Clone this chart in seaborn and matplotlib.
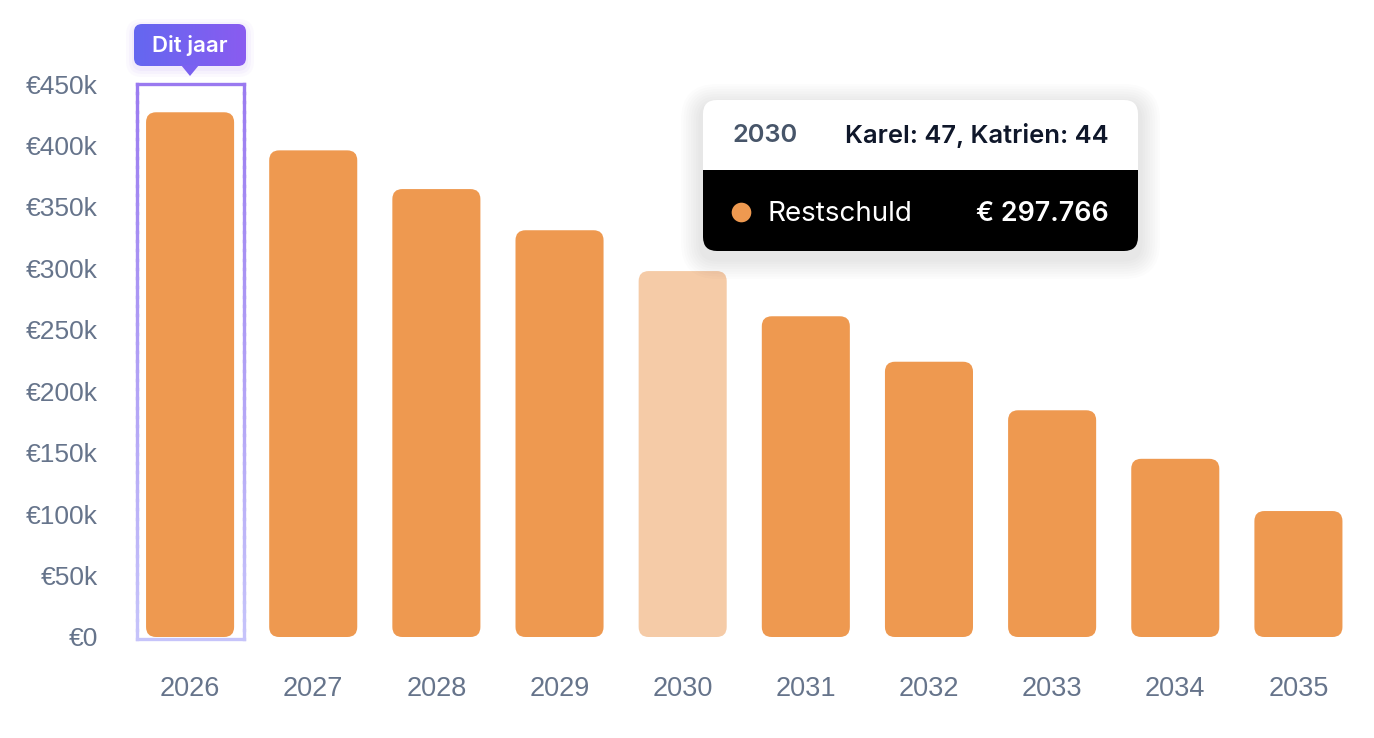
import numpy as np
import pandas as pd
import matplotlib
matplotlib.use("Agg")
import matplotlib.pyplot as plt
import seaborn as sns
from matplotlib.patches import FancyBboxPatch, Polygon
from matplotlib.collections import LineCollection
from matplotlib.colors import to_rgb

# ---- data ----
years = ["2026", "2027", "2028", "2029", "2030", "2031", "2032", "2033", "2034", "2035"]
restschuld = [427000, 396000, 364500, 331000, 297766, 261000, 224000, 184500, 145000, 102500]
y_ticks = [0, 50000, 100000, 150000, 200000, 250000, 300000, 350000, 400000, 450000]
y_tick_labels = ["€0", "€50k", "€100k", "€150k", "€200k", "€250k", "€300k", "€350k", "€400k", "€450k"]
current_year = "2026"
hover_year = "2030"
hover_ages = "Karel: 47, Katrien: 44"
series_name = "Restschuld"
hover_value_label = "€ 297.766"
badge_text = "Dit jaar"

ORANGE = "#EE9950"
ORANGE_LIGHT = "#F5CBA7"
TICK = "#66748B"

sns.set_theme(style="white")
plt.rcParams["font.family"] = ["Liberation Sans", "DejaVu Sans"]

W, H = 1374, 738
fig = plt.figure(figsize=(W / 100, H / 100), dpi=100)
fig.patch.set_facecolor("white")

# axes placed so that x=-0.5..9.5 and y=0..450k map onto the reference pixels
px0, px1 = 128.5, 1360
py_top, py_bot = 84, 637
ax = fig.add_axes([px0 / W, (H - py_bot) / H, (px1 - px0) / W, (py_bot - py_top) / H])

df = pd.DataFrame({"year": years, "value": restschuld})
sns.barplot(data=df, x="year", y="value", ax=ax, color=ORANGE, width=0.715,
            saturation=1, errorbar=None)
ax.set_xlim(-0.5, len(years) - 0.5)
ax.set_ylim(0, 450000)

# replace rectangular bars with rounded ones (derived from seaborn's patches)
x_per_px = (len(years)) / (px1 - px0)
y_per_px = 450000 / (py_bot - py_top)
aspect = y_per_px / x_per_px
r = 10 * x_per_px
bars = list(ax.patches)
for i, p in enumerate(bars):
    x, y0, w, h = p.get_x(), p.get_y(), p.get_width(), p.get_height()
    col = ORANGE_LIGHT if years[i] == hover_year else ORANGE
    p.remove()
    fb = FancyBboxPatch((x, y0), w, h, boxstyle=f"round,pad=0,rounding_size={r}",
                        mutation_aspect=aspect, facecolor=col, edgecolor="none", zorder=2)
    ax.add_patch(fb)

ax.set_yticks(y_ticks)
ax.set_yticklabels(y_tick_labels)
ax.tick_params(axis="y", length=0, pad=22, labelsize=19, labelcolor=TICK)
ax.tick_params(axis="x", length=0, pad=28, labelsize=19.5, labelcolor=TICK)
ax.set_xlabel("")
ax.set_ylabel("")
for s in ax.spines.values():
    s.set_visible(False)
ax.grid(False)

# highlight frame around current year (gradient outline)
ci = years.index(current_year)
fx0, fx1 = ci - 0.43, ci + 0.435
fy0, fy1 = -1500, 450000
top_c = np.array(to_rgb("#9A7AF0"))
bot_c = np.array(to_rgb("#C6C4FA"))
n = 60
segs, cols = [], []
ys = np.linspace(fy1, fy0, n + 1)
for k in range(n):
    t = (k + 0.5) / n
    c = top_c * (1 - t) + bot_c * t
    for xx in (fx0, fx1):
        segs.append([(xx, ys[k]), (xx, ys[k + 1])])
        cols.append(c)
segs.append([(fx0, fy1), (fx1, fy1)]); cols.append(top_c)
segs.append([(fx0, fy0), (fx1, fy0)]); cols.append(bot_c)
lc = LineCollection(segs, colors=cols, linewidths=2.4, capstyle="projecting", zorder=3, clip_on=False)
ax.add_collection(lc)

# overlay axes in pixel coords for decorations
ov = fig.add_axes([0, 0, 1, 1], zorder=5)
ov.set_xlim(0, W)
ov.set_ylim(H, 0)
ov.axis("off")
ov.patch.set_alpha(0)

# badge "Dit jaar"
bx0, bx1, by0, by1 = 134, 246, 24, 66
for k, a in enumerate([0.03, 0.04, 0.05]):
    e = 8 - 3 * k
    ov.add_patch(FancyBboxPatch((bx0 - e, by0 - e + 3), bx1 - bx0 + 2 * e, by1 - by0 + 2 * e,
                                boxstyle=f"round,pad=0,rounding_size={8 + e}",
                                facecolor="#8B5CF6", edgecolor="none", alpha=a))
badge = FancyBboxPatch((bx0, by0), bx1 - bx0, by1 - by0, boxstyle="round,pad=0,rounding_size=8",
                       facecolor="none", edgecolor="none")
ov.add_patch(badge)
grad = np.linspace(0, 1, 256).reshape(1, -1)
cmap = matplotlib.colors.LinearSegmentedColormap.from_list("g", ["#6467F0", "#8A5CF0"])
im = ov.imshow(grad, extent=[bx0, bx1, by1, by0], cmap=cmap, aspect="auto", zorder=6)
im.set_clip_path(badge)
ov.add_patch(Polygon([(181, 65), (199, 65), (190, 76)], closed=True, facecolor="#7A61F0",
                     edgecolor="none", zorder=6))
ov.text((bx0 + bx1) / 2, (by0 + by1) / 2 + 1, badge_text, ha="center", va="center",
        color="white", fontsize=16, fontweight="semibold", family=["Inter", "DejaVu Sans"], zorder=7)
ov.set_xlim(0, W)
ov.set_ylim(H, 0)

# tooltip
tx0, tx1, ty0, ty1, tmid = 703, 1138, 100, 251, 170
for k in range(8):
    e = 22 - 2.5 * k
    ov.add_patch(FancyBboxPatch((tx0 - e, ty0 - e + 6), tx1 - tx0 + 2 * e, ty1 - ty0 + 2 * e,
                                boxstyle=f"round,pad=0,rounding_size={14 + e}",
                                facecolor="#000000", edgecolor="none", alpha=0.010, zorder=7))
tip = FancyBboxPatch((tx0, ty0), tx1 - tx0, ty1 - ty0, boxstyle="round,pad=0,rounding_size=14",
                     facecolor="white", edgecolor="none", zorder=8)
ov.add_patch(tip)
lower = matplotlib.patches.Rectangle((tx0, tmid), tx1 - tx0, ty1 - tmid, facecolor="black",
                                     edgecolor="none", zorder=9)
ov.add_patch(lower)
lower.set_clip_path(tip)
inter = ["Inter", "DejaVu Sans"]
ov.text(732, 136, hover_year, ha="left", va="center", color="#475569", fontsize=18.3,
        fontweight="semibold", family=inter, zorder=10)
ov.text(1109, 136, hover_ages, ha="right", va="center", color="#0F172A", fontsize=18.4,
        fontweight="semibold", family=inter, zorder=10)
ov.scatter([741], [212], s=200, color=ORANGE, zorder=10, linewidths=0)
ov.text(767, 214, series_name, ha="left", va="center", color="white", fontsize=20,
        family=inter, zorder=10)
ov.text(1109, 214, hover_value_label, ha="right", va="center", color="white", fontsize=19.3,
        fontweight="semibold", family=inter, zorder=10)

fig.savefig("out.png", dpi=100, facecolor="white")
